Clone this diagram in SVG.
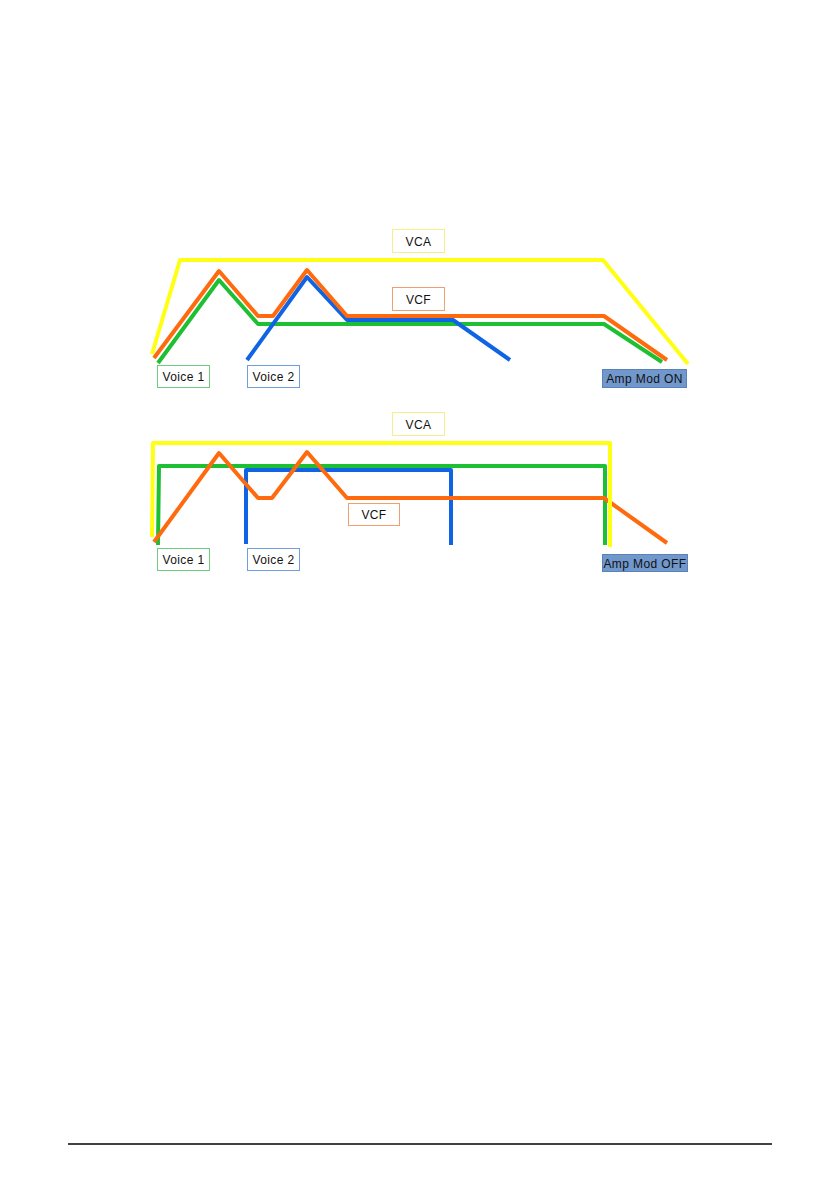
<svg xmlns="http://www.w3.org/2000/svg" width="839" height="1191" viewBox="0 0 839 1191">
<style>
.ln{fill:none;stroke-width:4;stroke-linejoin:round;stroke-linecap:butt}
.y{stroke:#ffff14}
.o{stroke:#ff6a0e}
.g{stroke:#1ec033}
.b{stroke:#0f64e6}
.box{fill:#fff;stroke-width:1}
.t{font-family:"Liberation Sans",Arial,sans-serif;font-size:12px;fill:#111;text-anchor:middle;letter-spacing:0.4px}
.amp{fill:#7198cc;stroke:#5b82b8;stroke-width:1}
</style>
<rect width="839" height="1191" fill="#fff"/>
<g id="connectors">
  <polyline class="ln y" points="152,354 180,260 603,260 688,364"/>
  <polyline class="ln g" points="158,363 219,280 258,324 604,324 662,362"/>
  <polyline class="ln b" points="247,360 307,277 347,320 453,320 510,360"/>
  <polyline class="ln o" points="154,358 219,271 258,316 273,316 307,270 347,316 604,316 667,360"/>
  <polyline class="ln g" points="158,545 159,466 605,466 605,545"/>
  <polyline class="ln b" points="246,544 246,470 451,470 451,545"/>
  <polyline class="ln o" points="154,542 219,453 258,498 272,498 307,452 347,498 604,498 667,543"/>
  <polyline class="ln y" points="152,537 153,443 610,443 610,547"/>
  <line x1="68" y1="1144" x2="772" y2="1144" stroke="#000" stroke-width="1.5"/>
</g>
<g id="vca1"><rect class="box" x="392.5" y="229.5" width="52" height="23" stroke="#f4ef8a"/><text class="t" x="418.5" y="245.5">VCA</text></g>
<g id="vcf1"><rect class="box" x="392.5" y="287.5" width="52" height="23" stroke="#f0a070"/><text class="t" x="418.5" y="303.5">VCF</text></g>
<g id="voice1a"><rect class="box" x="157.5" y="365.5" width="52" height="22" stroke="#6fcc7c"/><text class="t" x="183.5" y="381">Voice 1</text></g>
<g id="voice2a"><rect class="box" x="247.5" y="365.5" width="52" height="22" stroke="#6f9ede"/><text class="t" x="273.5" y="381">Voice 2</text></g>
<g id="ampon"><rect class="amp" x="602.5" y="369.5" width="84" height="18"/><text class="t" x="644.5" y="383">Amp Mod ON</text></g>
<g id="vca2"><rect class="box" x="392.5" y="412.5" width="52" height="23" stroke="#f4ef8a"/><text class="t" x="418.5" y="428.5">VCA</text></g>
<g id="vcf2"><rect class="box" x="348.5" y="503.5" width="51" height="22" stroke="#f0a070"/><text class="t" x="374" y="519">VCF</text></g>
<g id="voice1b"><rect class="box" x="157.5" y="548.5" width="52" height="22" stroke="#6fcc7c"/><text class="t" x="183.5" y="564">Voice 1</text></g>
<g id="voice2b"><rect class="box" x="247.5" y="548.5" width="52" height="22" stroke="#6f9ede"/><text class="t" x="273.5" y="564">Voice 2</text></g>
<g id="ampoff"><rect class="amp" x="602.5" y="554.5" width="85" height="17"/><text class="t" x="645" y="567.5">Amp Mod OFF</text></g>
</svg>
